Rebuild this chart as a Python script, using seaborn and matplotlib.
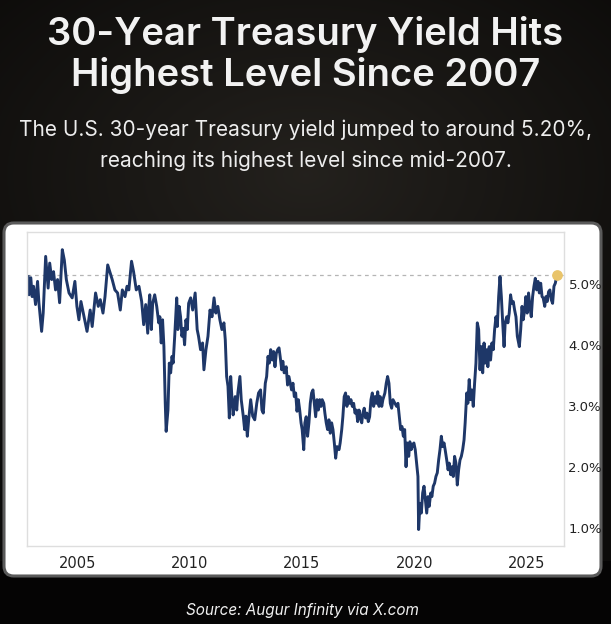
import numpy as np
import pandas as pd
import seaborn as sns
import matplotlib.pyplot as plt
from matplotlib.patches import FancyBboxPatch
import matplotlib.ticker as mticker

# ---- data ----
years = [
    2002.82, 2002.86, 2002.94, 2003.00, 2003.06, 2003.15, 2003.24, 2003.30, 2003.42, 2003.49,
    2003.60, 2003.71, 2003.78, 2003.87, 2003.95, 2004.04, 2004.13, 2004.22, 2004.34, 2004.43,
    2004.52, 2004.64, 2004.78, 2004.90, 2004.99, 2005.08, 2005.17, 2005.29, 2005.44, 2005.58,
    2005.67, 2005.82, 2005.94, 2006.03, 2006.15, 2006.24, 2006.36, 2006.45, 2006.56, 2006.68,
    2006.80, 2006.92, 2007.01, 2007.13, 2007.22, 2007.30, 2007.42, 2007.51, 2007.63, 2007.75,
    2007.87, 2007.96, 2008.05, 2008.14, 2008.19,
    2008.23, 2008.30, 2008.36, 2008.45, 2008.54, 2008.63, 2008.68, 2008.74, 2008.80, 2008.86,
    2008.92, 2008.96, 2009.04, 2009.10, 2009.16, 2009.22, 2009.27, 2009.34, 2009.43, 2009.48,
    2009.54, 2009.60, 2009.66, 2009.72, 2009.78, 2009.84, 2009.90, 2009.96, 2010.05, 2010.14,
    2010.25, 2010.34, 2010.40, 2010.49, 2010.58, 2010.64, 2010.73, 2010.82, 2010.91, 2011.00,
    2011.09, 2011.17, 2011.26, 2011.35, 2011.44, 2011.53, 2011.59, 2011.65, 2011.71, 2011.77,
    2011.83, 2011.89, 2011.94, 2012.03, 2012.10, 2012.15, 2012.24, 2012.30, 2012.39, 2012.45,
    2012.51, 2012.57, 2012.63, 2012.72, 2012.81, 2012.90, 2012.99, 2013.07, 2013.16, 2013.22,
    2013.28, 2013.37, 2013.43, 2013.49, 2013.55, 2013.61,
    2013.68, 2013.74, 2013.80, 2013.86, 2013.92, 2013.98, 2014.03, 2014.10, 2014.15, 2014.21,
    2014.30, 2014.36, 2014.42, 2014.48, 2014.54, 2014.60, 2014.66, 2014.72, 2014.78, 2014.84,
    2014.90, 2014.96, 2015.01, 2015.08, 2015.13, 2015.19, 2015.25, 2015.31, 2015.37, 2015.43,
    2015.49, 2015.55, 2015.61, 2015.67, 2015.73, 2015.79, 2015.85, 2015.90, 2015.97, 2016.02,
    2016.08, 2016.14, 2016.20, 2016.26, 2016.32, 2016.38, 2016.44, 2016.50, 2016.56, 2016.65,
    2016.70, 2016.77, 2016.82, 2016.88, 2016.94, 2017.00, 2017.06, 2017.12, 2017.18, 2017.24,
    2017.30, 2017.36, 2017.42, 2017.48, 2017.54, 2017.59, 2017.66, 2017.71, 2017.77, 2017.83,
    2017.89, 2017.95, 2018.01, 2018.07, 2018.13, 2018.19, 2018.25, 2018.31, 2018.37, 2018.43,
    2018.48, 2018.55, 2018.60, 2018.69, 2018.75, 2018.81, 2018.87, 2018.93, 2018.99, 2019.05,
    2019.14,
    2019.21, 2019.27, 2019.33, 2019.39, 2019.45, 2019.51, 2019.57, 2019.63, 2019.68, 2019.75,
    2019.80, 2019.86, 2019.92, 2019.98, 2020.04, 2020.10, 2020.16, 2020.19, 2020.25, 2020.31,
    2020.37, 2020.43, 2020.49, 2020.55, 2020.61, 2020.66, 2020.73, 2020.78, 2020.84, 2020.90,
    2020.96, 2021.02, 2021.08, 2021.14, 2021.20, 2021.26, 2021.32, 2021.37, 2021.44, 2021.50,
    2021.55, 2021.62, 2021.67, 2021.73, 2021.79, 2021.85, 2021.91, 2021.97, 2022.03, 2022.09,
    2022.15, 2022.21, 2022.26, 2022.33, 2022.38, 2022.44, 2022.50, 2022.56, 2022.62, 2022.68,
    2022.74, 2022.80, 2022.86, 2022.92, 2022.98, 2023.04, 2023.10, 2023.15, 2023.22, 2023.27,
    2023.33, 2023.39, 2023.45, 2023.51, 2023.57, 2023.63, 2023.69, 2023.75, 2023.81, 2023.87,
    2023.93, 2023.99, 2024.04, 2024.11, 2024.16, 2024.22, 2024.28, 2024.34, 2024.40, 2024.46,
    2024.52, 2024.58,
    2024.67, 2024.73, 2024.79, 2024.84, 2024.91, 2024.96, 2025.02, 2025.08, 2025.14, 2025.20,
    2025.26, 2025.32, 2025.38, 2025.44, 2025.50, 2025.56, 2025.62, 2025.68, 2025.73, 2025.80,
    2025.85, 2025.91, 2025.97, 2026.03, 2026.09, 2026.15, 2026.21, 2026.27, 2026.33, 2026.36,
]
yields = [
    5.12, 4.82, 5.10, 4.79, 4.96, 4.66, 5.04, 4.69, 4.22, 4.52,
    5.45, 4.93, 5.34, 5.07, 5.20, 4.90, 5.07, 4.69, 5.56, 5.39,
    5.07, 4.85, 4.77, 5.04, 4.63, 4.41, 4.71, 4.49, 4.22, 4.57,
    4.30, 4.85, 4.63, 4.74, 4.52, 4.79, 5.31, 5.20, 5.07, 4.90,
    4.85, 4.57, 4.90, 4.79, 4.96, 4.90, 5.37, 5.20, 4.90, 4.96,
    4.71, 4.33, 4.66, 4.19, 4.63,
    4.82, 4.25, 4.68, 4.82, 4.63, 4.36, 4.46, 4.03, 4.41, 3.97,
    3.04, 2.58, 2.93, 3.70, 3.54, 3.81, 3.70, 4.14, 4.77, 4.25,
    4.63, 4.46, 4.14, 4.27, 4.00, 4.41, 4.25, 4.68, 4.77, 4.57,
    4.85, 4.25, 4.14, 3.92, 4.03, 3.59, 3.92, 4.14, 4.57, 4.46,
    4.77, 4.52, 4.63, 4.41, 4.25, 4.36, 4.08, 3.48, 3.32, 2.80,
    3.48, 3.10, 2.85, 3.15, 2.93, 3.21, 3.48, 3.10, 2.83, 2.61,
    2.83, 2.50, 2.77, 3.10, 2.83, 2.77, 3.04, 3.21, 3.26, 2.93,
    2.88, 3.37, 3.48, 3.81, 3.70, 3.92,
    3.75, 3.89, 3.64, 3.86, 3.92, 3.95, 3.81, 3.59, 3.73, 3.54,
    3.64, 3.34, 3.48, 3.37, 3.26, 3.37, 3.15, 3.21, 2.91, 3.10,
    2.93, 2.72, 2.61, 2.28, 2.72, 2.82, 2.50, 2.72, 3.04, 3.21,
    3.26, 3.04, 2.82, 3.10, 2.93, 3.10, 2.99, 3.10, 3.04, 2.88,
    2.72, 2.61, 2.77, 2.55, 2.72, 2.61, 2.39, 2.14, 2.33, 2.28,
    2.39, 2.61, 2.82, 3.15, 3.21, 2.99, 3.15, 3.04, 3.10, 2.99,
    3.04, 2.88, 2.93, 2.74, 2.93, 2.82, 2.72, 2.88, 2.96, 2.80,
    2.88, 2.74, 2.82, 3.10, 3.21, 2.99, 3.15, 3.04, 3.23, 2.99,
    3.15, 2.99, 3.10, 3.21, 3.37, 3.48, 3.37, 3.04, 2.96, 3.10,
    3.04,
    2.99, 3.04, 2.82, 2.61, 2.66, 2.50, 2.61, 2.00, 2.39, 2.17,
    2.41, 2.28, 2.36, 2.39, 2.28, 2.06, 1.84, 0.97, 1.40, 1.24,
    1.57, 1.68, 1.46, 1.24, 1.51, 1.35, 1.57, 1.51, 1.68, 1.73,
    1.84, 1.90, 2.11, 2.28, 2.50, 2.33, 2.39, 2.28, 2.11, 1.95,
    2.06, 1.87, 2.00, 1.84, 2.17, 2.06, 1.70, 1.95, 2.11, 2.17,
    2.28, 2.44, 2.72, 3.21, 3.04, 3.43, 3.10, 3.26, 2.99, 3.37,
    3.70, 4.36, 4.25, 3.59, 3.97, 3.54, 4.03, 3.70, 3.92, 3.64,
    3.97, 3.75, 4.03, 3.92, 4.25, 4.46, 4.30, 4.79, 5.12, 4.79,
    4.36, 3.97, 4.36, 4.46, 4.36, 4.52, 4.82, 4.68, 4.71, 4.57,
    4.46, 4.14,
    3.97, 4.25, 4.63, 4.41, 4.57, 4.79, 4.52, 4.85, 4.63, 4.46,
    4.79, 4.96, 5.09, 4.90, 5.04, 4.85, 5.01, 4.79, 4.77, 4.63,
    4.79, 4.71, 4.87, 4.90, 4.74, 4.68, 4.96, 5.01, 5.12, 5.15,
]
latest_year = 2026.36
latest_yield = 5.15
xticks = [2005, 2010, 2015, 2020, 2025]
yticks = [1.0, 2.0, 3.0, 4.0, 5.0]

title_lines = "30-Year Treasury Yield Hits\nHighest Level Since 2007"
subtitle_lines = ("The U.S. 30-year Treasury yield jumped to around 5.20%,\n"
                  "reaching its highest level since mid-2007.")
source_text = "Source: Augur Infinity via X.com"

df = pd.DataFrame({"year": years, "yield": yields})

# ---- figure ----
W, H = 611, 624
fig = plt.figure(figsize=(W / 100, H / 100), dpi=100)

# dark gradient background
bg = fig.add_axes([0, 0, 1, 1], zorder=-10)
yy, xx = np.mgrid[0:H, 0:W]
d = np.sqrt(((xx - W * 0.5) / (W * 0.7)) ** 2 + ((yy - H * 0.28) / (H * 0.45)) ** 2)
g = np.clip(1 - d, 0, 1)
r = 0.05 + 0.09 * g
gg = 0.045 + 0.085 * g
b = 0.04 + 0.075 * g
img = np.dstack([r, gg, b])
img[int(H * 0.9):, :, :] = img[int(H * 0.9):, :, :] * 0.4
bg.imshow(img, aspect="auto", extent=[0, 1, 0, 1], origin="upper")
bg.set_axis_off()

# white card
card = FancyBboxPatch((4 / W, (H - 576) / H), 597 / W, 353 / H,
                      boxstyle="round,pad=0,rounding_size=0.016",
                      transform=fig.transFigure, facecolor="white",
                      edgecolor="#5a5a5a", linewidth=2.2, zorder=-5)
fig.patches.append(card)

ax = fig.add_axes([27 / W, (H - 546) / H, (564.3 - 27) / W, (546 - 232) / H])
ax.set_facecolor("white")
sns.lineplot(data=df, x="year", y="yield", ax=ax, color="#1e3768", linewidth=2.1)
ax.axhline(latest_yield, color="#b5b5b5", linestyle=(0, (3, 3)), linewidth=0.9, zorder=1)
ax.scatter([latest_year], [latest_yield], s=45, color="#e9c46a", zorder=5)

ax.set_xlim(2002.77, 2026.67)
ax.set_ylim(0.70, 5.85)
ax.set_xticks(xticks)
ax.set_yticks(yticks)
ax.yaxis.set_major_formatter(mticker.FuncFormatter(lambda v, p: f"{v:.1f}%"))
ax.yaxis.tick_right()
ax.tick_params(axis="both", length=0, colors="#222222")
ax.tick_params(axis="x", pad=7, labelsize=10.5)
ax.tick_params(axis="y", pad=3, labelsize=9.5)
ax.set_xlabel("")
ax.set_ylabel("")
ax.grid(False)
for s in ax.spines.values():
    s.set_color("#dedede")
    s.set_linewidth(1.0)

fig.text(0.5, 1 - 55 / H, title_lines, ha="center", va="center", color="#f2f2f2",
         fontsize=27.5, fontweight="semibold", family="Inter", linespacing=1.15)
fig.text(0.5, 1 - 145 / H, subtitle_lines, ha="center", va="center", color="#ededed",
         fontsize=15, family="Inter", linespacing=1.65)
fig.text(0.495, 1 - 611 / H, source_text, ha="center", va="center", color="#f0f0f0",
         fontsize=11, style="italic", family="Inter")

fig.savefig("out.png", dpi=100)
